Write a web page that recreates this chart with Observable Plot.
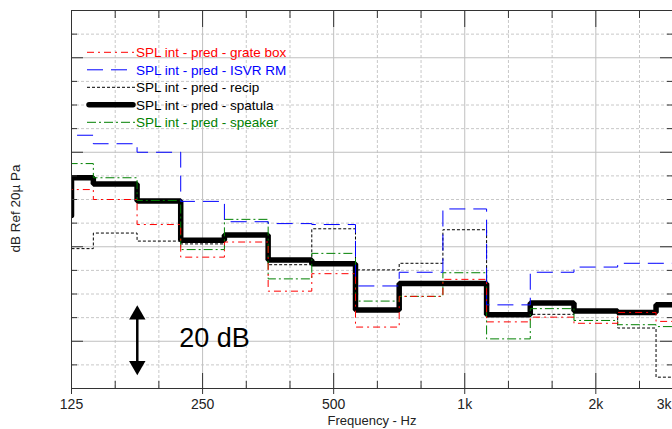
<!DOCTYPE html>
<html>
<head>
<meta charset="utf-8">
<script src="https://cdn.jsdelivr.net/npm/d3@7"></script>
<script src="https://cdn.jsdelivr.net/npm/@observablehq/plot@0.6"></script>
<style>
html, body { margin: 0; padding: 0; background: #fff; overflow: hidden; }
#chart { position: relative; width: 672px; height: 429px; }
#chart svg { display: block; }
</style>
</head>
<body>
<div id="chart"></div>
<script>
// ---- Data (third-octave bands, dB) ----
const bands = [125, 160, 200, 250, 315, 400, 500, 630, 800, 1000, 1250, 1600, 2000, 2500, 3150];
// lower band edges (Hz) plus final upper edge
const bandEdges = [111.4, 140.3, 176.8, 222.7, 280.6, 353.6, 445.4, 561.2, 707.1, 890.9, 1122.5, 1414.2, 1781.8, 2244.9, 2750, 3563.6];

const seriesNames = [
  "SPL int - pred - grate box",
  "SPL int - pred - ISVR RM",
  "SPL int - pred - recip",
  "SPL int - pred - spatula",
  "SPL int - pred - speaker"
];
// level of each curve where it enters the plot at 125 Hz
const leadLevels = [60.1, 79.7, 59.6, 66.6, 69.8];

const grateBox = [72.1, 70.0, 64.7, 57.8, 61.0, 50.6, 54.3, 43.0, 49.5, 53.1, 44.1, 45.1, 43.8, 46.1, 44.2];
const isvrRM   = [83.6, 81.8, 80.0, 69.6, 65.3, 64.9, 64.7, 51.7, 54.6, 68.0, 47.7, 54.6, 55.7, 56.5, 56.5];
const recip    = [59.6, 62.9, 61.2, 60.6, 62.2, 56.2, 63.8, 55.1, 56.5, 63.6, 45.7, 45.7, 46.4, 42.8, 32.4];
const spatula  = [74.6, 73.3, 69.7, 61.4, 62.5, 57.2, 56.4, 46.6, 52.2, 52.2, 45.6, 48.1, 46.4, 46.1, 47.7];
const speaker  = [77.6, 74.6, 69.8, 59.4, 65.8, 53.2, 58.6, 48.5, 49.5, 54.5, 40.5, 46.9, 44.4, 43.5, 43.1];

// ---- Axes / ticks ----
const xDomain = [125, 3000];
const yDomain = [30, 110];
const freqMinorTicks = [157.5, 198.4, 315, 396.9, 630, 793.7, 1260, 1587.4, 2519.8];
const freqMajorTicks = [250, 500, 1000, 2000];
const freqLabelValues = [125, 250, 500, 1000, 2000];
const freqLabels = ["125", "250", "500", "1k", "2k"];
const edgeLabelValue = [3000];
const edgeLabel = ["3k"];
const dbMinorGrid = [35, 45, 50, 55, 65, 70, 75, 85, 90, 95, 105];
const dbMajorGrid = [40, 60, 80, 100];
const xTitle = "Frequency - Hz";
const yTitle = "dB Ref 20µ Pa";

// annotation (data units)
const arrowFreq = 177;
const arrowTop = 47.6, arrowBottom = 32.8;
const arrowHeadTop = 45.6, arrowHeadBottom = 34.8;
const noteFreq = 221, noteLevel = 40.6, noteText = "20 dB";

// ---- Build step paths ----
function steps(values, lead) {
  const pts = [{f: xDomain[0], db: lead}];
  values.forEach((v, i) => pts.push({f: Math.max(bandEdges[i], xDomain[0]), db: v}));
  pts.push({f: bandEdges[values.length], db: values[values.length - 1]});
  return pts;
}

const styles = [
  {stroke: "#ff0000", strokeWidth: 1, dash: "7,4,2,4"},
  {stroke: "#0000ff", strokeWidth: 1, dash: "16,8"},
  {stroke: "#000000", strokeWidth: 1, dash: "3,2"},
  {stroke: "#000000", strokeWidth: 5.5, dash: null},
  {stroke: "#008000", strokeWidth: 1, dash: "9,3,2,3"}
];
const seriesValues = [grateBox, isvrRM, recip, spatula, speaker];
const drawOrder = [3, 2, 4, 1, 0];

const gridDash = "3,2";
const gridColor = "#c8c8c8";
const majorGridColor = "#c0c0c0";
const axisColor = "#333";
const fontStack = "'Liberation Sans', Arial, sans-serif";

const lineMarks = drawOrder.map(i => Plot.line(steps(seriesValues[i], leadLevels[i]), {
  x: "f", y: "db", curve: "step-after", clip: true,
  stroke: styles[i].stroke, strokeWidth: styles[i].strokeWidth,
  strokeDasharray: styles[i].dash || undefined,
  strokeLinejoin: "miter", strokeLinecap: i === 3 ? "round" : "butt"
}));

const plotH = 429 - 10 - 41;
const plotW = 672 - 71;

const chart = Plot.plot({
  width: 672, height: 429,
  marginLeft: 71, marginRight: 0, marginTop: 10, marginBottom: 41,
  x: {type: "log", domain: xDomain},
  y: {domain: yDomain, axis: null},
  style: {fontFamily: fontStack, fontSize: "13px", color: "#000", background: "#fff"},
  marks: [
    // grid
    Plot.ruleY(dbMinorGrid, {stroke: gridColor, strokeDasharray: gridDash}),
    Plot.ruleX(freqMinorTicks, {stroke: gridColor, strokeDasharray: gridDash}),
    Plot.ruleY(dbMajorGrid, {stroke: majorGridColor}),
    Plot.ruleX(freqMajorTicks, {stroke: majorGridColor}),
    // data
    ...lineMarks,
    // frame (top, left, bottom)
    Plot.ruleY([yDomain[1]], {stroke: axisColor}),
    Plot.ruleY([yDomain[0]], {stroke: axisColor}),
    Plot.ruleX([xDomain[0]], {stroke: axisColor}),
    // top ticks
    Plot.ruleX(freqMinorTicks, {stroke: axisColor, insetBottom: plotH - 8}),
    Plot.ruleX(freqMajorTicks, {stroke: axisColor, insetBottom: plotH - 17}),
    // bottom ticks (inward)
    Plot.ruleX(freqMinorTicks, {stroke: axisColor, insetTop: plotH - 7}),
    Plot.ruleX(freqMajorTicks, {stroke: axisColor, insetTop: plotH - 15}),
    // left ticks
    Plot.ruleY(dbMinorGrid, {stroke: axisColor, insetRight: plotW - 6}),
    Plot.ruleY(dbMajorGrid, {stroke: axisColor, insetRight: plotW - 12}),
    // right ticks
    Plot.ruleY(dbMinorGrid, {stroke: axisColor, insetLeft: plotW - 5}),
    Plot.ruleY(dbMajorGrid, {stroke: axisColor, insetLeft: plotW - 12}),
    // x axis labels
    Plot.axisX(freqLabelValues, {
      tickSize: 6, tickPadding: 5, stroke: axisColor, fill: "#222", fontSize: 14,
      tickFormat: d => freqLabels[freqLabelValues.indexOf(d)], label: null
    }),
    Plot.text(edgeLabelValue, {x: d => d, text: (d, i) => edgeLabel[i], frameAnchor: "bottom",
      dy: 11, lineAnchor: "top", textAnchor: "end", dx: -1, fontSize: 14, fill: "#222"}),
    Plot.text([xTitle], {frameAnchor: "bottom", dy: 32.5, lineAnchor: "middle", textAnchor: "middle", fontSize: 13, fill: "#222"}),
    Plot.text([yTitle], {frameAnchor: "left", dx: -56, dy: 9, rotate: -90, textAnchor: "middle", lineAnchor: "middle", fontSize: 13.5, fill: "#222"}),
    // 20 dB annotation
    Plot.ruleX([arrowFreq], {y1: arrowBottom + 1.5, y2: arrowTop - 1.5, stroke: "#000", strokeWidth: 2.5}),
    Plot.dot([arrowHeadTop], {x: () => arrowFreq, y: d => d, symbol: "triangle", r: 6.1, fill: "#000", stroke: null}),
    Plot.dot([arrowHeadBottom], {x: () => arrowFreq, y: d => d, symbol: "triangle", r: 6.1, fill: "#000", stroke: null, rotate: 180}),
    Plot.text([noteText], {x: () => noteFreq, y: () => noteLevel, textAnchor: "start", fontSize: 27, fill: "#000"})
  ]
});

document.getElementById("chart").appendChild(chart);

// ---- Legend (inside plot, top-left) ----
const svg = d3.select(chart);
const legend = svg.append("g")
  .attr("font-family", fontStack)
  .attr("font-size", 13.5)
  .attr("text-anchor", "start");
seriesNames.forEach((name, i) => {
  const yBase = 57.3 + i * 17.5;
  const yLine = yBase - 5;
  const s = styles[i];
  legend.append("line")
    .attr("x1", i === 3 ? 89 : 87).attr("x2", i === 3 ? 133 : 135)
    .attr("y1", yLine).attr("y2", yLine)
    .attr("stroke", s.stroke).attr("stroke-width", s.strokeWidth)
    .attr("stroke-dasharray", s.dash)
    .attr("stroke-linecap", i === 3 ? "round" : "butt");
  legend.append("text").attr("x", 136).attr("y", yBase)
    .attr("text-anchor", "start")
    .attr("fill", s.stroke).text(name);
});
</script>
</body>
</html>
